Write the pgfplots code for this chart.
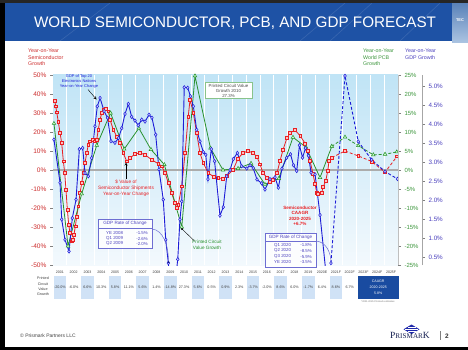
\documentclass[border=0pt]{standalone}
\usepackage{pgfplots}
\pgfplotsset{compat=1.18}
\usepackage{fontspec}
\setmainfont{Liberation Sans}
\newfontfamily\serifx{Liberation Serif}
\definecolor{banner}{RGB}{30,82,165}
\definecolor{semired}{RGB}{232,32,36}
\definecolor{pcbgreen}{RGB}{40,145,45}
\definecolor{gdpblue}{RGB}{28,28,215}
\definecolor{gdpfill}{RGB}{205,205,255}
\definecolor{labred}{RGB}{205,45,45}
\definecolor{labgreen}{RGB}{60,150,60}
\definecolor{labblue}{RGB}{75,65,190}
\definecolor{cellblue}{RGB}{208,226,246}
\definecolor{darkcell}{RGB}{25,75,160}
\definecolor{bgtop}{RGB}{192,228,246}
\definecolor{bgbot}{RGB}{243,249,253}
\definecolor{boxline}{RGB}{110,110,210}
\definecolor{tiletop}{RGB}{90,130,185}
\definecolor{tilebot}{RGB}{170,195,225}
\definecolor{logoblue}{RGB}{30,40,170}
\definecolor{logonavy}{RGB}{20,30,80}
\newcommand\fs[2]{\fontsize{#1}{#2}\selectfont}
\begin{document}
\begin{tikzpicture}
\useasboundingbox (0,0) rectangle (468bp,-350bp);
\fill[white] (0,0) rectangle (468bp,-350bp);
\begin{scope}[x=1bp,y=-1bp]
\fill[black] (0,0) rectangle (5,350);
\fill[black!85] (0,0) rectangle (468,3);
\fill[black] (0,347) rectangle (468,350);
\fill[banner] (5,3) rectangle (452,41);
\draw[white, opacity=0.12, line width=0.6bp] (60,41) -- (110,3) (300,41) -- (345,3) (330,41)--(372,3) (400,41)--(440,3);
\node[text=white, font=\fs{15.3}{18}] at (235,23.5) {WORLD SEMICONDUCTOR, PCB, AND GDP FORECAST};
\shade[top color=tiletop, bottom color=tilebot] (452,3) rectangle (468,42);
\node[text=white, font=\fs{4}{4}\bfseries] at (460,20) {TEC};
\end{scope}

% main axis (semiconductor scale)
\begin{axis}[at={(53bp,-265bp)}, anchor=south west, scale only axis,
  width=345bp, height=190bp,
  xmin=2000.5, xmax=2025.5, ymin=-50, ymax=50,
  axis background/.style={shade, top color=bgtop, bottom color=bgbot},
  axis line style={draw=none},
  xtick={2001.5,2002.5,...,2024.5}, xticklabels=\empty,
  xmajorgrids, x grid style={white, line width=0.8bp}, x tick style={draw=none},
  ytick={-50,-40,...,50},
  yticklabels={-50\%,-40\%,-30\%,-20\%,-10\%,0\%,10\%,20\%,30\%,40\%,50\%},
  ytick pos=left, tick align=outside, major tick length=3bp,
  y tick style={gray, line width=0.5bp},
  yticklabel style={text=labred, font=\fs{6.6}{7}},
  /pgf/number format/assume math mode=true]
\addplot[gray!65, line width=1.3bp, forget plot] coordinates {(2000.5,0) (2025.5,0)};
% semiconductor (red)
\addplot[semired, line width=0.8bp, mark=square*, mark size=1.4bp, mark options={fill=red!25, line width=0.5bp}] coordinates {
(2000.62,36.5) (2000.70,33.5) (2000.77,30.4) (2000.88,25.6) (2001.01,19.5) (2001.13,14.2) (2001.25,4.6) (2001.35,-1.6)
(2001.44,-10.4) (2001.54,-20.9) (2001.64,-28.8) (2001.73,-33.2) (2001.83,-37.5) (2001.93,-36.7) (2002.02,-34) (2002.12,-29.6)
(2002.22,-24.4) (2002.33,-19.1) (2002.46,-12.1) (2002.58,-6.8) (2002.70,-1.6) (2002.82,3.7) (2002.94,8.9) (2003.06,13.3)
(2003.18,15.1) (2003.38,16) (2003.54,15.1) (2003.67,16) (2003.78,21.2) (2003.91,26.5) (2004.03,30) (2004.14,31.7)
(2004.32,32.1) (2004.51,30.9) (2004.63,26.5) (2004.87,21.2) (2005.12,17.7) (2005.36,14.2) (2005.59,8.9) (2005.84,4.6)
(2006.08,6.3) (2006.44,8.4) (2006.80,9) (2007.17,8) (2007.65,5.4) (2008.13,3.3) (2008.38,2) (2008.62,-1.6)
(2008.86,-6.8) (2009.10,-12.1) (2009.34,-17.4) (2009.46,-20) (2009.58,-18.2) (2009.83,-8.6) (2010.07,8.9) (2010.30,28.2)
(2010.43,37) (2010.67,30) (2010.91,19.5) (2011.15,8.9) (2011.39,3.7) (2011.75,-1.6) (2012.12,-3.4) (2012.48,-4.2)
(2012.82,-4.5) (2013.11,-3) (2013.54,0) (2013.91,6) (2014.27,9) (2014.63,10) (2014.99,9) (2015.28,7)
(2015.50,3) (2015.72,-1.6) (2016.01,-4) (2016.23,-6) (2016.44,-5) (2016.73,-1.6) (2016.96,5) (2017.17,10.7)
(2017.46,17) (2017.67,19.5) (2018.04,21) (2018.41,18) (2018.77,14) (2018.98,10) (2019.12,5) (2019.34,-2)
(2019.49,-7.4) (2019.61,-12) (2019.70,-12.6) (2019.97,-12) (2020.07,-9) (2020.26,-5.8) (2020.41,-0.5) (2020.50,4.7) (2020.70,6.5)};
\addplot[semired, line width=0.8bp, densely dashed, mark=square*, mark size=1.4bp, mark options={solid, fill=red!25, line width=0.5bp}] coordinates {
(2020.70,6.5) (2021.66,10) (2022.62,7.4) (2023.59,4.5) (2024.56,-1.2) (2025.43,7.2)};
% PCB (green), plotted at twice the PCB scale
\addplot[pcbgreen, line width=0.8bp, mark=triangle*, mark size=2.1bp, mark options={fill=green!20, line width=0.5bp}] coordinates {
(2000.57,24.5) (2001.59,-40) (2002.58,-12.5) (2003.67,13) (2004.67,30) (2005.66,11) (2006.72,22) (2007.60,10.8)
(2008.57,2.8) (2009.83,-30) (2010.79,49.5) (2011.91,11.5) (2012.82,0) (2013.91,0.8) (2014.85,3.5) (2015.86,-7.6)
(2016.86,-4.5) (2017.89,17.2) (2018.83,12) (2019.85,-4) (2020.70,12.4)};
\addplot[pcbgreen, line width=0.8bp, densely dashed, mark=triangle*, mark size=2.1bp, mark options={solid, fill=green!20, line width=0.5bp}] coordinates {
(2020.70,12.4) (2021.66,17.3) (2022.62,12.8) (2023.71,8) (2024.56,8.3) (2025.41,9.5)};
% GDP of top 20 electronics nations (blue)
\addplot[gdpblue, line width=0.9bp, mark=diamond*, mark size=1.8bp, mark options={fill=gdpfill, line width=0.5bp}] coordinates {
(2000.57,16) (2001.01,-6.7) (2001.13,-26) (2001.37,-36.7) (2001.66,-42.8) (2001.90,-25.3) (2002.17,-15.6) (2002.41,11)
(2002.65,11.6) (2002.82,-1.6) (2003.06,-3.3) (2003.30,6.3) (2003.54,23) (2003.71,33.5) (2003.91,37.9) (2004.20,31)
(2004.45,27.5) (2004.70,15.2) (2004.99,14.3) (2005.25,16.8) (2005.48,22) (2005.72,29.5) (2005.96,34.8) (2006.20,28)
(2006.44,26) (2006.68,23.5) (2006.93,26.5) (2007.17,25.5) (2007.46,29.1) (2007.67,27.5) (2007.94,18.6) (2008.18,0.3)
(2008.49,-15.6) (2008.67,-36.7) (2008.86,-49) (2009.12,-75) (2009.54,-47) (2009.70,-26) (2009.83,-16.5) (2010.01,43.5)
(2010.26,43.3) (2010.46,38.8) (2010.67,33.5) (2010.91,21.2) (2011.15,15.1) (2011.39,9.5) (2011.57,8) (2011.73,-4.8)
(2011.97,11) (2012.21,4.6) (2012.60,-24) (2012.84,-19.5) (2013.09,-3.3) (2013.33,0) (2013.57,5.8) (2013.86,9)
(2014.17,2) (2014.54,0.8) (2014.78,2.5) (2015.01,1) (2015.28,-5) (2015.62,-7) (2015.86,-10.3) (2016.22,-4.8)
(2016.59,-3.8) (2016.83,-9.3) (2017.09,0.7) (2017.43,6.4) (2017.71,8.3) (2017.93,2.5) (2018.16,-0.5) (2018.36,13)
(2018.58,6.5) (2018.80,11.5) (2019.01,7.5) (2019.20,-1.4) (2019.49,-2.3) (2019.85,-23.7) (2020.36,-60)};
\addplot[gdpblue, line width=0.9bp, densely dashed, mark=diamond*, mark size=1.8bp, mark options={solid, fill=gdpfill, line width=0.5bp}] coordinates {
(2020.64,-49) (2021.66,49.5) (2022.62,15) (2023.59,5.4) (2024.56,-0.8) (2025.46,-4.7)};
\end{axis}

% PCB axis (right)
\begin{axis}[at={(53bp,-265bp)}, anchor=south west, scale only axis,
  width=345bp, height=190bp, xmin=0, xmax=1, ymin=-25, ymax=25,
  hide x axis, axis y line*=right, y axis line style={gray!50, line width=0.4bp},
  ytick={-25,-20,...,25},
  yticklabels={-25\%,-20\%,-15\%,-10\%,-5\%,0\%,5\%,10\%,15\%,20\%,25\%},
  tick align=outside, major tick length=3bp, y tick style={gray, line width=0.5bp},
  yticklabel style={text=labgreen, font=\fs{6}{7}},
  /pgf/number format/assume math mode=true]
\addplot[draw=none] coordinates {(0,0)};
\end{axis}

% GDP axis (far right)
\begin{axis}[at={(77bp,-265bp)}, anchor=south west, scale only axis,
  width=345bp, height=190bp, xmin=0, xmax=1, ymin=0.3, ymax=5.3,
  hide x axis, axis y line*=right, y axis line style={gray!70, line width=0.8bp},
  ytick={0.5,1.0,1.5,2.0,2.5,3.0,3.5,4.0,4.5,5.0},
  yticklabels={0.5\%,1.0\%,1.5\%,2.0\%,2.5\%,3.0\%,3.5\%,4.0\%,4.5\%,5.0\%},
  tick align=outside, major tick length=3bp, y tick style={gray, line width=0.5bp},
  yticklabel style={text=labblue, font=\fs{6.3}{7}},
  /pgf/number format/assume math mode=true]
\addplot[draw=none] coordinates {(0,1)};
\end{axis}

\begin{scope}[x=1bp,y=-1bp]
% headers
\node[anchor=north west, align=left, text=labred, font=\fs{5.3}{6.5}, inner sep=0] at (28,49) {Year-on-Year\\Semiconductor\\Growth};
\node[anchor=north west, align=left, text=labgreen, font=\fs{5.3}{6.5}, inner sep=0] at (363,49) {Year-on-Year\\World PCB\\Growth};
\node[anchor=north west, align=left, text=labblue, font=\fs{5.3}{6.5}, inner sep=0] at (405,49) {Year-on-Year\\GDP Growth};
% annotations
\node[align=center, text=gdpblue, font=\fs{4}{5.2}, inner sep=0] at (79,81.5) {GDP of Top 20\\Electronics Nations\\Year-on-Year Change};
\draw[-stealth, line width=0.4bp] (88,89.5) -- (96.5,99.5);
\node[align=center, text=semired, font=\fs{4.8}{6}, inner sep=0] at (126,188.5) {\$ Value of\\Semiconductor Shipments\\Year-on-Year Change};
\draw[-stealth, line width=0.4bp] (126,179) -- (126,162.5);
\node[draw=pcbgreen!55, fill=white, line width=0.5bp, align=center, font=\fs{4.4}{5}, text=black!70, inner sep=1.5bp, minimum width=47bp] at (228.5,90.5) {Printed Circuit Value\\Growth 2010\\27.3\%};
\node[align=center, text=pcbgreen, font=\fs{4.7}{5.6}, inner sep=0] at (207,245) {Printed Circuit\\Value Growth};
\draw[line width=0.4bp] (182,229) -- (194,240.5);
\fill (182,229) circle (1.1bp);
\node[align=center, text=semired, font=\fs{4.6}{5.5}\bfseries, inner sep=0] at (300,216) {Semiconductor\\CAAGR\\2020-2025\\+6.7\%};
% GDP box 2008
\draw[boxline, line width=0.5bp] (152,229) .. controls (163,230) and (168.5,245) .. (168.5,262);
\fill[gdpblue!60!black] (168.5,262) circle (1bp);
\draw[boxline, fill=white, fill opacity=0.85, line width=0.5bp] (98,219) rectangle (152,248);
\draw[boxline, line width=0.5bp] (98,228.5) -- (152,228.5);
\node[text=labblue, font=\fs{4.6}{5}] at (125,223.8) {GDP Rate of Change};
\foreach \y/\a/\b in {233/YE 2008/-1.5\%, 238.5/Q1 2009/-2.6\%, 243.5/Q2 2009/-2.0\%}{
  \node[anchor=west, text=labblue, font=\fs{4.4}{5}, inner sep=0] at (106,\y) {\a};
  \node[anchor=east, text=labblue, font=\fs{4.4}{5}, inner sep=0] at (148,\y) {\b};}
% GDP box 2020
\draw[boxline, line width=0.5bp] (316,241) .. controls (326,242) and (331,252) .. (331,263);
\draw[boxline, fill=white, fill opacity=0.85, line width=0.5bp] (265,233) rectangle (316,267);
\draw[boxline, line width=0.5bp] (265,241) -- (316,241);
\node[text=labblue, font=\fs{4.6}{5}] at (290.5,237.2) {GDP Rate of Change};
\foreach \y/\a/\b in {245/Q1 2020/-1.8\%, 250.8/Q2 2020/-8.5\%, 256.5/Q3 2020/-5.9\%, 262.2/YE 2020/-3.5\%}{
  \node[anchor=west, text=labblue, font=\fs{4.4}{5}, inner sep=0] at (274,\y) {\a};
  \node[anchor=east, text=labblue, font=\fs{4.4}{5}, inner sep=0] at (312,\y) {\b};}
% table
\foreach \i in {0,2,...,20} \fill[cellblue] ({53.6+\i*13.8},276) rectangle ({66.2+\i*13.8},299);
\foreach \lab [count=\i from 0] in {2001,2002,2003,2004,2005,2006,2007,2008,2009,2010,2011,2012,2013,2014,2015,2016,2017,2018,2019,2020E,2021F,2022F,2023F,2024F,2025F}
  \node[font=\fs{3.6}{4}, text=black!75, inner sep=0] at ({59.9+\i*13.8},272.5) {\lab};
\foreach \v [count=\i from 0] in {-20.0\%,-6.0\%,6.6\%,10.3\%,5.8\%,11.1\%,5.6\%,1.4\%,-14.8\%,27.3\%,5.6\%,0.5\%,0.9\%,2.3\%,-3.7\%,-2.0\%,8.6\%,6.0\%,-1.7\%,6.4\%,8.6\%,6.7\%}
  \node[font=\fs{3.7}{4}, text=black!75, inner sep=0] at ({59.9+\i*13.8},287.5) {\v};
\fill[darkcell] (358,275.5) rectangle (398.5,299);
\node[align=center, text=white, font=\fs{3.6}{5.6}, inner sep=0] at (378.2,287.2) {CAAGR\\2020-2025\\5.8\%};
\node[font=\fs{2.4}{3}, text=black!55, inner sep=0] at (378,302) {*2021-2025 Prismark estimates};
\node[align=center, font=\fs{3.7}{5.4}, text=black!75, inner sep=0] at (43,286.5) {Printed\\Circuit\\Value\\Growth};
% footer
\node[anchor=west, font=\fs{5}{6}, text=black!75, inner sep=0] at (20,336) {\textcopyright\ Prismark Partners LLC};
\fill[logoblue] (411.5,324.5) -- (419.5,329.3) -- (411.5,334) -- (403.5,329.3) -- cycle;
\draw[white, line width=0.35bp] (405,329.3) -- (418,329.3) (407.5,327.3) -- (415.5,327.3) (407.5,331.3) -- (415.5,331.3);
\node[font=\serifx\fs{9.5}{10}, text=logonavy, inner sep=0, anchor=base west] at (390,338.5) {P\fs{7.2}{8}RISMAR\fs{9.5}{10}K};
\draw[gray, line width=0.5bp] (440.5,331) -- (440.5,340);
\node[font=\fs{6.5}{7}\bfseries, text=black!80, inner sep=0] at (447,336) {2};
\end{scope}
\end{tikzpicture}
\end{document}
